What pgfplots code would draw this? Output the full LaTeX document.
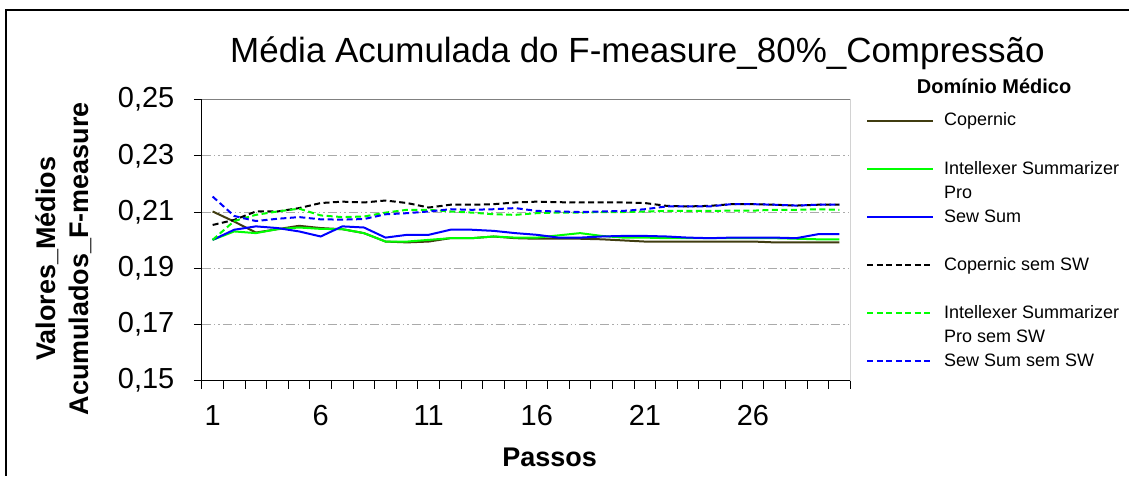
\documentclass[border=0pt]{standalone}
\usepackage{pgfplots}
\usepackage{pgfplotstable}
\usepackage{fontspec}
\setmainfont{Liberation Sans}
\pgfplotsset{compat=1.18}

\definecolor{copolive}{RGB}{64,60,16}
\definecolor{brightgreen}{RGB}{0,255,0}
\definecolor{pureblue}{RGB}{0,0,255}
\definecolor{gridgray}{RGB}{170,170,170}
\definecolor{framegray}{RGB}{128,128,128}

% Accumulated mean F-measure per step (80% compression, medical domain)
\pgfplotstableread{
passo cop     intx    sew     copsw   intxsw  sewsw
1     0.2102  0.2001  0.2001  0.2054  0.2001  0.2155
2     0.2066  0.2031  0.2037  0.2072  0.2068  0.2086
3     0.2027  0.2025  0.2049  0.2102  0.2090  0.2068
4     0.2039  0.2039  0.2043  0.2102  0.2102  0.2076
5     0.2051  0.2045  0.2031  0.2114  0.2112  0.2082
6     0.2043  0.2040  0.2013  0.2132  0.2088  0.2074
7     0.2039  0.2039  0.2049  0.2137  0.2082  0.2073
8     0.2025  0.2025  0.2045  0.2134  0.2084  0.2075
9     0.1995  0.1995  0.2009  0.2141  0.2098  0.2092
10    0.1992  0.1995  0.2019  0.2132  0.2108  0.2096
11    0.1995  0.2001  0.2019  0.2116  0.2108  0.2102
12    0.2007  0.2007  0.2037  0.2126  0.2102  0.2110
13    0.2007  0.2007  0.2037  0.2126  0.2098  0.2108
14    0.2013  0.2013  0.2033  0.2128  0.2092  0.2110
15    0.2007  0.2009  0.2025  0.2134  0.2090  0.2114
16    0.2005  0.2009  0.2019  0.2137  0.2096  0.2104
17    0.2005  0.2017  0.2009  0.2135  0.2098  0.2102
18    0.2005  0.2025  0.2009  0.2134  0.2098  0.2100
19    0.2003  0.2015  0.2013  0.2134  0.2100  0.2102
20    0.1999  0.2009  0.2015  0.2134  0.2100  0.2104
21    0.1995  0.2009  0.2015  0.2132  0.2102  0.2110
22    0.1995  0.2007  0.2013  0.2122  0.2104  0.2120
23    0.1995  0.2007  0.2009  0.2120  0.2104  0.2120
24    0.1995  0.2007  0.2007  0.2122  0.2104  0.2120
25    0.1995  0.2007  0.2009  0.2128  0.2105  0.2128
26    0.1995  0.2007  0.2009  0.2128  0.2105  0.2128
27    0.1992  0.2007  0.2009  0.2126  0.2108  0.2126
28    0.1992  0.2005  0.2007  0.2123  0.2108  0.2123
29    0.1992  0.2003  0.2021  0.2126  0.2110  0.2126
30    0.1992  0.2003  0.2021  0.2126  0.2108  0.2126
}\fmdata

% two-line legend text block, baseline on the first line
\newcommand\leg[2]{{\fontsize{18}{24.1}\selectfont\begin{tabular}[t]{@{}l@{}}#1\\\strut#2\end{tabular}}}

\begin{document}
\begin{tikzpicture}
% page extent and chart frame
\path (0pt,0pt) rectangle (1130pt,-476pt);
\draw[line width=2pt] (6pt,-476pt) -- (6pt,-10pt) -- (1130pt,-10pt);

\begin{axis}[
  at={(202pt,-381pt)}, anchor=south west,
  scale only axis, width=649pt, height=281.3pt,
  xmin=0.5, xmax=30.5, ymin=0.15, ymax=0.25,
  axis x line*=bottom, axis y line*=left,
  axis line style={black, line width=1.3pt},
  tick style={black, line width=1pt},
  tick align=outside, major tick length=8pt,
  xtick={0.5,1.5,...,30.5}, xticklabels={},
  extra x ticks={1,6,11,16,21,26},
  extra x tick labels={1,6,11,16,21,26},
  extra x tick style={major tick length=0pt, grid=none,
    xticklabel style={yshift=-21pt}},
  ytick={0.15,0.17,0.19,0.21,0.23,0.25},
  yticklabel style={xshift=-16pt, /pgf/number format/.cd, fixed, fixed zerofill, precision=2, use comma},
  /pgf/number format/assume math mode=true,
  ticklabel style={font=\fontsize{29}{34}\selectfont},
  ymajorgrids,
  grid style={gridgray, line width=1pt, dash pattern=on 9pt off 3pt on 1.5pt off 3pt on 1.5pt off 3pt},
  legend style={at={(1.0247,0.9666)}, anchor=north west, draw=none, fill=none,
    inner sep=0pt, outer sep=0pt, row sep=0pt, column sep=10pt,
    nodes={inner sep=0pt, outer sep=0pt, text height=, text depth=}},
  legend cell align=left,
  % sample line sits level with the first text line of its entry
  legend image code/.code={\draw[#1] (0pt,12.5pt) -- (66pt,12.5pt);},
  every axis plot/.append style={line width=2pt},
]
\addplot[copolive, no markers] table[x=passo, y=cop] {\fmdata};
\addlegendentry{\leg{Copernic}{}}
\addplot[brightgreen, no markers] table[x=passo, y=intx] {\fmdata};
\addlegendentry{\leg{Intellexer Summarizer}{Pro}}
\addplot[pureblue, no markers] table[x=passo, y=sew] {\fmdata};
\addlegendentry{\leg{Sew Sum}{}}
\addplot[black, no markers, dash pattern=on 6pt off 3.5pt] table[x=passo, y=copsw] {\fmdata};
\addlegendentry{\leg{Copernic sem SW}{}}
\addplot[brightgreen, no markers, dash pattern=on 6pt off 3.5pt] table[x=passo, y=intxsw] {\fmdata};
\addlegendentry{\leg{Intellexer Summarizer}{Pro sem SW}}
\addplot[pureblue, no markers, dash pattern=on 6pt off 3.5pt] table[x=passo, y=sewsw] {\fmdata};
\addlegendentry{\leg{Sew Sum sem SW}{}}
% top and right borders of the plot area
\draw[framegray, line width=1.3pt] (rel axis cs:0,1) -- (rel axis cs:1,1) -- (rel axis cs:1,0);
\end{axis}

% titles and axis names
\node[anchor=base, font=\fontsize{35}{41}\selectfont] at (638pt,-63pt)
  {Média Acumulada do F-measure\_80\%\_Compressão};
\node[anchor=base, font=\fontsize{27}{32}\selectfont\bfseries] at (550pt,-467pt) {Passos};
\node[rotate=90, align=center, font=\fontsize{27}{33}\selectfont\bfseries] at (63.5pt,-259pt)
  {Valores\_Médios\\Acumulados\_F-measure};
\node[anchor=base, font=\fontsize{20}{24}\selectfont\bfseries] at (995pt,-94pt) {Domínio Médico};
\end{tikzpicture}
\end{document}
